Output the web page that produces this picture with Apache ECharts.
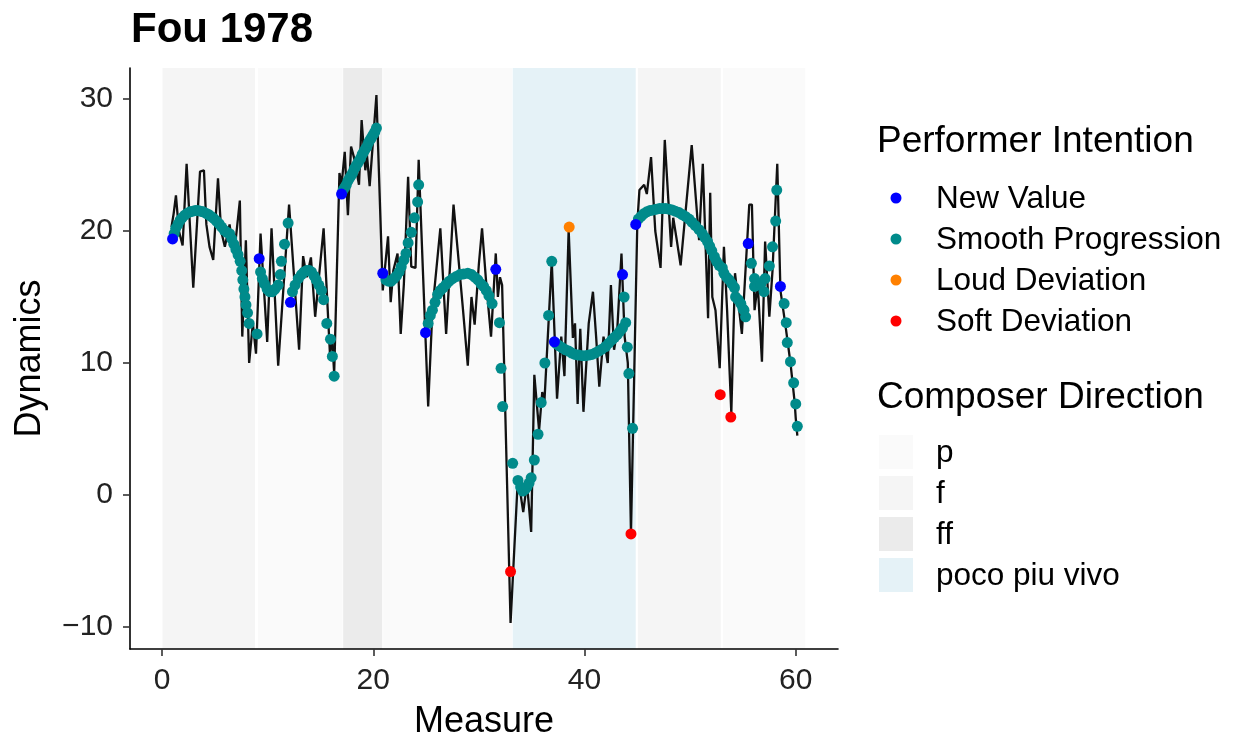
<!DOCTYPE html>
<html>
<head>
<meta charset="utf-8">
<title>Fou 1978</title>
<script src="https://cdn.jsdelivr.net/npm/echarts@6/dist/echarts.min.js"></script>
<style>
  html, body { margin: 0; padding: 0; background: #fff; }
  #chart { width: 1239px; height: 742px; }
</style>
</head>
<body>
<div id="chart"></div>
<script>
// Raw dynamics, one point per note: [measure, dynamics]
const dynamicsLine = [
  [0.9,20.3],[1.1,21.3],[1.32,22.7],[1.6,20.0],[1.95,18.9],[2.33,25.1],[2.96,15.7],[3.6,24.5],[3.97,24.6],
  [4.2,20.5],[4.5,18.8],[4.85,17.8],[5.3,24.0],[5.6,20.0],[5.95,18.8],[6.4,20.5],[6.7,18.5],[7.0,19.5],
  [7.37,22.3],[7.6,12.0],[7.94,19.3],[8.25,10.0],[8.6,13.0],[8.9,10.7],[9.33,19.8],[9.96,11.6],[10.37,20.2],
  [11.0,9.8],[12.03,22.0],[12.98,11.0],[13.36,18.1],[13.7,16.5],[14.1,18.0],[14.5,13.5],[15.3,20.2],[15.9,10.7],
  [16.1,12.0],[16.3,9.2],[16.8,24.4],[17.0,23.5],[17.3,26.0],[17.6,21.2],[17.9,26.4],[18.2,25.5],[18.65,23.5],
  [18.9,28.4],[19.25,24.6],[19.4,25.8],[19.66,23.4],[20.3,30.3],[20.9,15.5],[21.4,19.6],[21.65,14.6],[21.9,17.0],
  [22.3,18.3],[22.6,12.2],[22.9,16.0],[23.3,24.1],[23.6,17.3],[24.0,17.2],[24.3,25.4],[24.7,17.0],[25.2,6.7],
  [25.6,14.0],[26.35,20.2],[26.9,12.2],[27.6,22.0],[28.0,18.5],[28.5,14.0],[28.95,9.8],[29.3,15.0],[29.6,12.9],
  [30.0,17.5],[30.3,20.2],[30.7,16.0],[31.15,12.0],[31.6,18.3],[31.8,15.0],[32.0,16.5],[32.2,15.9],[33.0,-9.7],
  [33.7,1.4],[34.2,-1.3],[34.55,0.9],[34.95,-2.8],[35.25,9.1],[35.7,4.9],[36.0,7.8],[36.2,7.0],[36.9,17.7],
  [37.4,7.3],[37.8,12.0],[38.1,9.0],[38.5,20.1],[38.9,11.9],[39.1,13.0],[39.35,6.9],[39.6,12.6],[39.9,6.3],
  [40.4,13.0],[40.8,15.4],[41.1,12.0],[41.4,8.2],[41.8,12.0],[42.2,10.0],[42.5,15.9],[42.8,11.0],[43.1,12.5],
  [43.5,18.3],[43.8,12.0],[44.1,10.0],[44.4,-2.9],[45.0,20.6],[45.2,23.1],[45.65,23.5],[45.9,22.8],[46.3,25.6],
  [46.7,20.0],[47.2,17.2],[47.6,26.9],[48.2,18.8],[48.4,21.0],[48.7,19.5],[49.1,17.4],[50.15,26.5],[50.85,19.3],
  [51.2,25.1],[51.7,13.4],[51.9,22.9],[52.1,15.0],[52.4,14.0],[52.8,9.6],[53.2,18.8],[53.5,14.0],[53.9,6.2],
  [54.25,16.8],[54.9,12.2],[55.6,22.0],[55.85,22.0],[56.1,14.0],[56.4,16.0],[56.8,10.1],[57.1,19.2],[57.5,13.5],
  [57.8,17.0],[58.25,25.1],[58.55,15.5],[59.0,13.0],[59.5,10.0],[59.9,7.0],[60.0,5.8],[60.15,4.5]
];

// Performer intention markers
const newValuePts = [
  [1.0,19.4],[9.2,17.9],[12.16,14.6],[17.0,22.8],[20.9,16.8],[24.95,12.3],
  [31.6,17.1],[37.15,11.6],[43.6,16.7],[44.85,20.5],[55.5,19.05],[58.55,15.8]
];
const smoothPts = [
  [1.15,19.8],[1.3,20.2],[1.5,20.5],[1.7,20.8],[1.9,21.0],[2.15,21.2],[2.4,21.35],[2.65,21.45],[2.9,21.5],
  [3.15,21.55],[3.4,21.55],[3.65,21.5],[3.9,21.45],[4.15,21.35],[4.4,21.25],[4.65,21.1],[4.9,20.95],[5.15,20.75],
  [5.4,20.55],[5.65,20.3],[5.9,20.05],[6.15,19.9],[6.4,19.8],[6.6,19.4],[6.8,19.0],[7.0,18.6],[7.2,18.2],
  [7.4,17.7],[7.55,17.0],[7.65,16.3],[7.75,15.6],[7.85,15.0],[7.95,14.4],[8.1,13.8],[8.25,13.0],[9.0,12.2],
  [9.33,16.9],[9.5,16.4],[9.7,16.0],[9.95,15.6],[10.2,15.4],[10.45,15.4],[10.7,15.6],[11.0,15.9],[11.2,16.7],
  [11.3,17.7],[11.6,19.0],[11.94,20.6],
  [12.35,15.4],[12.6,15.9],[12.9,16.4],[13.2,16.7],[13.45,16.9],[13.7,17.0],[13.95,17.0],[14.15,16.9],[14.4,16.6],
  [14.6,16.3],[14.85,15.9],[15.1,15.5],[15.3,14.8],[15.6,13.0],[15.95,11.8],[16.13,10.5],[16.3,9.0],
  [17.15,23.1],[17.3,23.3],[17.45,23.5],[17.6,23.8],[17.75,24.0],[17.9,24.2],[18.05,24.4],[18.2,24.7],[18.35,24.9],
  [18.5,25.1],[18.65,25.3],[18.8,25.5],[18.95,25.8],[19.1,26.0],[19.25,26.2],[19.4,26.4],[19.55,26.7],[19.7,26.9],
  [19.85,27.1],[20.0,27.3],[20.15,27.5],[20.3,27.8],
  [21.2,16.3],[21.45,16.2],[21.7,16.2],[21.95,16.4],[22.2,16.6],[22.45,16.9],[22.65,17.3],[22.9,17.8],[23.1,18.3],
  [23.3,19.1],[23.6,19.9],[23.9,21.0],[24.2,22.2],[24.3,23.5],
  [25.2,13.0],[25.4,13.6],[25.6,14.0],[25.85,14.6],[26.1,15.2],[26.35,15.5],[26.6,15.7],[26.9,15.95],[27.2,16.2],
  [27.5,16.4],[27.85,16.55],[28.2,16.7],[28.55,16.75],[28.95,16.8],[29.3,16.7],[29.6,16.5],[29.9,16.3],[30.2,16.0],
  [30.45,15.8],[30.7,15.5],[30.95,15.1],[31.25,14.5],
  [31.95,13.05],[32.1,9.6],[32.25,6.7],[33.2,2.4],[33.7,1.1],[33.95,0.6],[34.15,0.3],[34.35,0.4],[34.55,0.6],
  [34.75,0.9],[34.95,1.3],[35.25,2.65],[35.6,4.6],[35.9,7.0],[36.25,10.0],[36.6,13.6],[36.9,17.7],
  [37.35,11.45],[37.6,11.3],[37.9,11.15],[38.2,11.0],[38.5,10.9],[38.8,10.75],[39.1,10.65],[39.45,10.6],[39.8,10.55],
  [40.1,10.55],[40.4,10.6],[40.7,10.65],[41.0,10.75],[41.35,10.9],[41.65,11.05],[42.0,11.25],[42.3,11.5],[42.6,11.75],
  [42.85,11.95],[43.1,12.15],[43.35,12.4],[43.6,12.65],
  [43.75,15.0],[43.9,13.05],[44.05,11.2],[44.2,9.2],[44.55,5.05],
  [45.1,20.9],[45.35,21.1],[45.6,21.3],[45.9,21.45],[46.2,21.55],[46.5,21.6],[46.8,21.65],[47.1,21.7],[47.4,21.7],
  [47.7,21.7],[48.0,21.65],[48.3,21.6],[48.6,21.5],[48.95,21.4],[49.25,21.25],[49.55,21.1],[49.9,20.9],[50.2,20.65],
  [50.5,20.4],[50.85,20.1],[51.15,19.8],[51.4,19.5],[51.65,19.2],[51.85,18.85],[52.05,18.5],[52.3,18.05],[52.5,17.7],
  [52.75,17.4],[53.05,17.2],[53.2,16.8],[53.45,16.5],[53.7,16.3],[53.95,16.0],[54.2,15.7],[54.3,15.0],[54.55,14.8],
  [54.8,14.5],[55.0,14.1],[55.1,14.0],[55.25,13.5],
  [55.8,17.55],[56.1,16.4],[56.1,15.8],[56.4,15.9],[56.7,16.0],[57.0,15.4],[57.1,16.4],[57.5,17.35],[57.8,18.8],
  [58.1,20.75],[58.2,23.1],
  [58.9,14.5],[59.1,13.05],[59.2,11.55],[59.5,10.1],[59.8,8.5],[60.0,6.9],[60.15,5.2]
];
const loudPts = [[38.55,20.3]];
const softPts = [[33.0,-5.8],[44.4,-2.95],[52.85,7.6],[53.85,5.9]];

// Composer direction sections
const sectionStart = [0.05, 9.1, 17.15, 20.95, 33.2, 45.05, 53.1];
const sectionEnd   = [8.8, 17.1, 20.85, 33.15, 44.85, 52.9, 60.9];
const sectionDir   = ['f', 'p', 'ff', 'p', 'poco piu vivo', 'f', 'p'];

const directionNames  = ['p', 'f', 'ff', 'poco piu vivo'];
const directionColors = { 'p': '#fafafa', 'f': '#f5f5f5', 'ff': '#ebebeb', 'poco piu vivo': '#e5f2f7' };

const intentionNames  = ['New Value', 'Smooth Progression', 'Loud Deviation', 'Soft Deviation'];
const intentionColors = { 'New Value': '#0000ff', 'Smooth Progression': '#008b8b', 'Loud Deviation': '#ff8000', 'Soft Deviation': '#ff0000' };

const xTicks = [0, 20, 40, 60];
const yTicks = [-10, 0, 10, 20, 30];

const FONT = "'Liberation Sans', Arial, Helvetica, sans-serif";

const chart = echarts.init(document.getElementById('chart'), null, { renderer: 'canvas' });

const sectionAreas = sectionStart.map((s, i) => [
  { xAxis: s, itemStyle: { color: directionColors[sectionDir[i]] } },
  { xAxis: sectionEnd[i] }
]);

// Tick labels use a true minus sign
const fmtTick = v => String(v).replace('-', '\u2212');

// Hand-built legends on the right
const legendGraphics = [];
legendGraphics.push({
  type: 'text', x: 877, y: 142,
  style: { text: 'Performer Intention', font: '37px ' + FONT, fill: '#000', verticalAlign: 'middle' }
});
intentionNames.forEach((name, i) => {
  const cy = 198 + i * 41;
  legendGraphics.push({ type: 'circle', shape: { cx: 896, cy: cy, r: 5.5 }, style: { fill: intentionColors[name] } });
  legendGraphics.push({
    type: 'text', x: 936, y: cy + 1,
    style: { text: name, font: '31.5px ' + FONT, fill: '#000', verticalAlign: 'middle' }
  });
});
legendGraphics.push({
  type: 'text', x: 877, y: 398,
  style: { text: 'Composer Direction', font: '37px ' + FONT, fill: '#000', verticalAlign: 'middle' }
});
directionNames.forEach((name, i) => {
  const top = 435 + i * 41;
  legendGraphics.push({ type: 'rect', shape: { x: 879, y: top, width: 34, height: 34 }, style: { fill: directionColors[name] } });
  legendGraphics.push({
    type: 'text', x: 936, y: top + 18,
    style: { text: name, font: '31.5px ' + FONT, fill: '#000', verticalAlign: 'middle' }
  });
});

function scatterSeries(name, data) {
  return {
    name: name, type: 'scatter', data: data, symbolSize: 11, z: 5,
    itemStyle: { color: intentionColors[name], opacity: 1 },
    silent: true
  };
}

const option = {
  animation: false,
  backgroundColor: '#ffffff',
  title: {
    text: 'Fou 1978', left: 126, top: 4,
    textStyle: { fontFamily: FONT, fontSize: 42, fontWeight: 'bold', color: '#000' }
  },
  grid: { left: 130, right: 401, top: 68, bottom: 93, containLabel: false, outerBoundsMode: 'none' },
  xAxis: {
    type: 'value', min: -3.03, max: 64.0, z: 10,
    name: 'Measure', nameLocation: 'middle', nameGap: 55,
    nameTextStyle: { fontFamily: FONT, fontSize: 36, color: '#000' },
    axisLine: { show: true, onZero: false, lineStyle: { color: '#000', width: 1.6 } },
    axisTick: { show: true, length: 7, customValues: xTicks, lineStyle: { color: '#333', width: 1.6 } },
    axisLabel: { customValues: xTicks, formatter: fmtTick, fontFamily: FONT, fontSize: 30, color: '#222', margin: 17 },
    splitLine: { show: false }
  },
  yAxis: {
    type: 'value', min: -11.67, max: 32.35, z: 10,
    name: 'Dynamics', nameLocation: 'middle', nameGap: 82, nameRotate: 90,
    nameTextStyle: { fontFamily: FONT, fontSize: 36, color: '#000' },
    axisLine: { show: true, onZero: false, lineStyle: { color: '#000', width: 1.6 } },
    axisTick: { show: true, length: 7, customValues: yTicks, lineStyle: { color: '#333', width: 1.6 } },
    axisLabel: { customValues: yTicks, formatter: fmtTick, fontFamily: FONT, fontSize: 30, color: '#222', margin: 17 },
    splitLine: { show: false }
  },
  graphic: legendGraphics,
  series: [
    {
      name: 'sections', type: 'line', data: [], z: 0, silent: true,
      markArea: { silent: true, data: sectionAreas }
    },
    {
      name: 'dynamics', type: 'line', data: dynamicsLine, z: 2, silent: true,
      showSymbol: false, symbol: 'none',
      lineStyle: { color: '#111', width: 2.3 }
    },
    scatterSeries('Smooth Progression', smoothPts),
    scatterSeries('New Value', newValuePts),
    scatterSeries('Loud Deviation', loudPts),
    scatterSeries('Soft Deviation', softPts)
  ]
};

chart.setOption(option);
</script>
</body>
</html>
